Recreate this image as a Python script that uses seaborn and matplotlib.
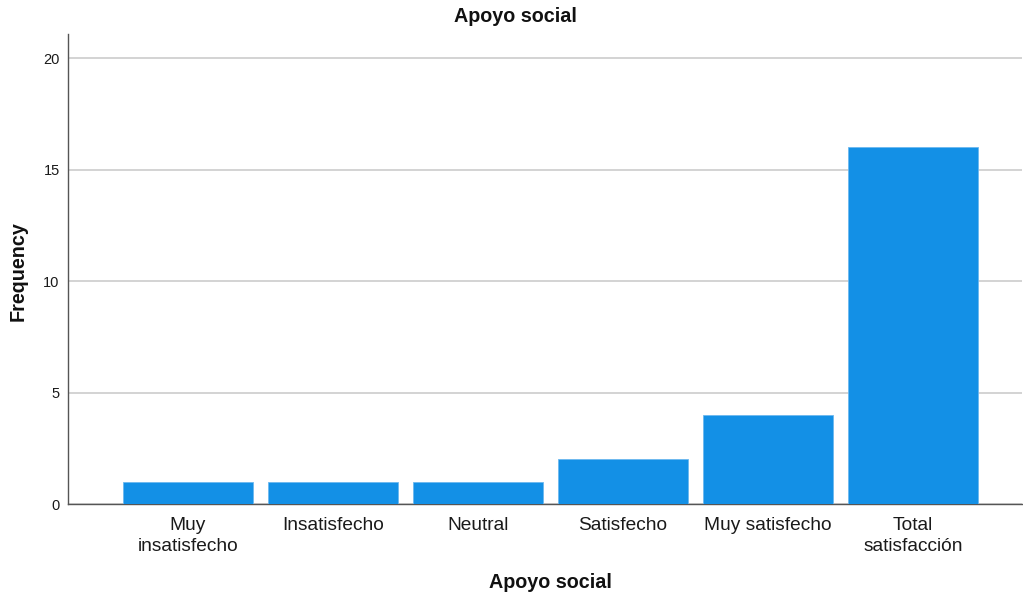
import matplotlib
matplotlib.use("Agg")
import matplotlib.pyplot as plt
import seaborn as sns
import pandas as pd

categories = ["Muy\ninsatisfecho", "Insatisfecho", "Neutral", "Satisfecho",
              "Muy satisfecho", "Total\nsatisfacción"]
frequencies = [1, 1, 1, 2, 4, 16]
y_ticks = [0, 5, 10, 15, 20]

df = pd.DataFrame({"Apoyo social": categories, "Frequency": frequencies})

sns.set_theme(style="white")
plt.rcParams["font.family"] = ["Liberation Sans", "DejaVu Sans"]

fig = plt.figure(figsize=(10.23, 5.99), dpi=100)
ax_left, ax_right, ax_top, ax_bottom = 68, 1022, 34, 504
ax = fig.add_axes([ax_left / 1023, (599 - ax_bottom) / 599,
                   (ax_right - ax_left) / 1023, (ax_bottom - ax_top) / 599])

sns.barplot(data=df, x="Apoyo social", y="Frequency", color="#1390e6",
            saturation=1, width=0.897, edgecolor="#6cb8ef", linewidth=0.6,
            ax=ax, zorder=3)

ax.set_xlim(-0.828, 5.752)
ax.set_ylim(0, 21.08)
ax.set_yticks(y_ticks)
ax.yaxis.grid(True, color="#d0d0d0", linewidth=1.3, zorder=0)
ax.set_axisbelow(True)

for side in ["top", "right"]:
    ax.spines[side].set_visible(False)
for side in ["left", "bottom"]:
    ax.spines[side].set_color("#555555")
    ax.spines[side].set_linewidth(1.0)

ax.tick_params(axis="both", length=0)
ax.tick_params(axis="x", labelsize=13.8, colors="#1a1a1a", pad=9)
ax.tick_params(axis="y", labelsize=10.5, colors="#1a1a1a", pad=6)
for lbl in ax.get_xticklabels():
    lbl.set_linespacing(1.32)

w = ax_right - ax_left
h = ax_bottom - ax_top
ax.set_xlabel("Apoyo social", fontsize=14.2, fontweight="bold", color="#111111")
ax.xaxis.set_label_coords((550 - ax_left) / w, (ax_bottom - 583) / h)
ax.xaxis.label.set_va("center")
ax.set_ylabel("Frequency", fontsize=14.2, fontweight="bold", color="#111111")
ax.yaxis.set_label_coords((18 - ax_left) / w, (ax_bottom - 271) / h)
ax.yaxis.label.set_va("center")
fig.text(515 / 1023, 1 - 17 / 599, "Apoyo social", ha="center", va="center",
         fontsize=14.2, fontweight="bold", color="#111111")

fig.savefig("out.png", dpi=100)
